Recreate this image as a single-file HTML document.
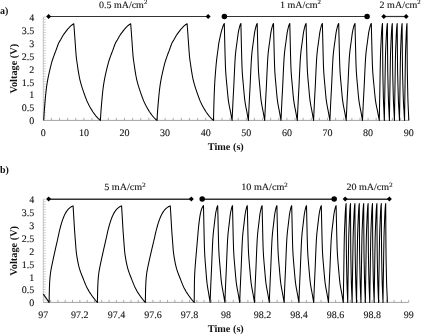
<!DOCTYPE html>
<html><head><meta charset="utf-8"><style>
html,body{margin:0;padding:0;background:#fff;}
svg{display:block;will-change:transform;text-rendering:geometricPrecision;}
.t{font-family:"Liberation Serif",serif;font-size:10px;fill:#111;stroke:#111;stroke-width:0.1px;}
.l{font-family:"Liberation Serif",serif;font-size:9.6px;fill:#111;stroke:#111;stroke-width:0.1px;}
.b{font-family:"Liberation Serif",serif;font-size:10px;font-weight:bold;fill:#111;}
</style></head><body>
<svg width="421" height="336" viewBox="0 0 421 336">
<path d="M43.30 117.82h2.5M43.30 115.23h2.5M43.30 112.65h2.5M43.30 110.06h2.5M43.30 107.48h2.5M43.30 104.89h2.5M43.30 102.31h2.5M43.30 99.72h2.5M43.30 97.14h2.5M43.30 94.55h2.5M43.30 91.97h2.5M43.30 89.38h2.5M43.30 86.80h2.5M43.30 84.21h2.5M43.30 81.62h2.5M43.30 79.04h2.5M43.30 76.45h2.5M43.30 73.87h2.5M43.30 71.28h2.5M43.30 68.70h2.5M43.30 66.12h2.5M43.30 63.53h2.5M43.30 60.95h2.5M43.30 58.36h2.5M43.30 55.78h2.5M43.30 53.19h2.5M43.30 50.61h2.5M43.30 48.02h2.5M43.30 45.44h2.5M43.30 42.85h2.5M43.30 40.27h2.5M43.30 37.68h2.5M43.30 35.09h2.5M43.30 32.51h2.5M43.30 29.93h2.5M43.30 27.34h2.5M43.30 24.75h2.5M43.30 22.17h2.5M43.30 19.58h2.5M43.30 17.00h2.5" stroke="#c4c4c4" stroke-width="0.8" fill="none"/><path d="M51.42 120.40v-2.6M59.54 120.40v-2.6M67.66 120.40v-2.6M75.78 120.40v-2.6M83.90 120.40v-2.6M92.02 120.40v-2.6M100.14 120.40v-2.6M108.26 120.40v-2.6M116.38 120.40v-2.6M124.50 120.40v-2.6M132.62 120.40v-2.6M140.74 120.40v-2.6M148.86 120.40v-2.6M156.98 120.40v-2.6M165.10 120.40v-2.6M173.22 120.40v-2.6M181.34 120.40v-2.6M189.46 120.40v-2.6M197.58 120.40v-2.6M205.70 120.40v-2.6M213.82 120.40v-2.6M221.94 120.40v-2.6M230.06 120.40v-2.6M238.18 120.40v-2.6M246.30 120.40v-2.6M254.42 120.40v-2.6M262.54 120.40v-2.6M270.66 120.40v-2.6M278.78 120.40v-2.6M286.90 120.40v-2.6M295.02 120.40v-2.6M303.14 120.40v-2.6M311.26 120.40v-2.6M319.38 120.40v-2.6M327.50 120.40v-2.6M335.62 120.40v-2.6M343.74 120.40v-2.6M351.86 120.40v-2.6M359.98 120.40v-2.6M368.10 120.40v-2.6M376.22 120.40v-2.6M384.34 120.40v-2.6M392.46 120.40v-2.6M400.58 120.40v-2.6M408.70 120.40v-2.6" stroke="#999" stroke-width="0.8" fill="none"/><path d="M43.30 17.00V120.40" stroke="#bbb" stroke-width="0.9" fill="none"/><path d="M43.30 120.40H408.70" stroke="#999" stroke-width="0.9" fill="none"/><text x="34.3" y="124.30" text-anchor="end" class="t">0</text><text x="34.3" y="111.38" text-anchor="end" class="t">0.5</text><text x="34.3" y="98.45" text-anchor="end" class="t">1</text><text x="34.3" y="85.53" text-anchor="end" class="t">1.5</text><text x="34.3" y="72.60" text-anchor="end" class="t">2</text><text x="34.3" y="59.68" text-anchor="end" class="t">2.5</text><text x="34.3" y="46.75" text-anchor="end" class="t">3</text><text x="34.3" y="33.82" text-anchor="end" class="t">3.5</text><text x="34.3" y="20.90" text-anchor="end" class="t">4</text><text x="43.30" y="136.00" text-anchor="middle" class="t">0</text><text x="83.90" y="136.00" text-anchor="middle" class="t">10</text><text x="124.50" y="136.00" text-anchor="middle" class="t">20</text><text x="165.10" y="136.00" text-anchor="middle" class="t">30</text><text x="205.70" y="136.00" text-anchor="middle" class="t">40</text><text x="246.30" y="136.00" text-anchor="middle" class="t">50</text><text x="286.90" y="136.00" text-anchor="middle" class="t">60</text><text x="327.50" y="136.00" text-anchor="middle" class="t">70</text><text x="368.10" y="136.00" text-anchor="middle" class="t">80</text><text x="408.70" y="136.00" text-anchor="middle" class="t">90</text>
<path d="M43.30 299.82h2.5M43.30 297.24h2.5M43.30 294.66h2.5M43.30 292.08h2.5M43.30 289.50h2.5M43.30 286.92h2.5M43.30 284.34h2.5M43.30 281.76h2.5M43.30 279.18h2.5M43.30 276.60h2.5M43.30 274.02h2.5M43.30 271.44h2.5M43.30 268.86h2.5M43.30 266.28h2.5M43.30 263.70h2.5M43.30 261.12h2.5M43.30 258.54h2.5M43.30 255.96h2.5M43.30 253.38h2.5M43.30 250.80h2.5M43.30 248.22h2.5M43.30 245.64h2.5M43.30 243.06h2.5M43.30 240.48h2.5M43.30 237.90h2.5M43.30 235.32h2.5M43.30 232.74h2.5M43.30 230.16h2.5M43.30 227.58h2.5M43.30 225.00h2.5M43.30 222.42h2.5M43.30 219.84h2.5M43.30 217.26h2.5M43.30 214.68h2.5M43.30 212.10h2.5M43.30 209.52h2.5M43.30 206.94h2.5M43.30 204.36h2.5M43.30 201.78h2.5M43.30 199.20h2.5" stroke="#c4c4c4" stroke-width="0.8" fill="none"/><path d="M50.61 302.40v-2.6M57.92 302.40v-2.6M65.22 302.40v-2.6M72.53 302.40v-2.6M79.84 302.40v-2.6M87.15 302.40v-2.6M94.46 302.40v-2.6M101.76 302.40v-2.6M109.07 302.40v-2.6M116.38 302.40v-2.6M123.69 302.40v-2.6M131.00 302.40v-2.6M138.30 302.40v-2.6M145.61 302.40v-2.6M152.92 302.40v-2.6M160.23 302.40v-2.6M167.54 302.40v-2.6M174.84 302.40v-2.6M182.15 302.40v-2.6M189.46 302.40v-2.6M196.77 302.40v-2.6M204.08 302.40v-2.6M211.38 302.40v-2.6M218.69 302.40v-2.6M226.00 302.40v-2.6M233.31 302.40v-2.6M240.62 302.40v-2.6M247.92 302.40v-2.6M255.23 302.40v-2.6M262.54 302.40v-2.6M269.85 302.40v-2.6M277.16 302.40v-2.6M284.46 302.40v-2.6M291.77 302.40v-2.6M299.08 302.40v-2.6M306.39 302.40v-2.6M313.70 302.40v-2.6M321.00 302.40v-2.6M328.31 302.40v-2.6M335.62 302.40v-2.6M342.93 302.40v-2.6M350.24 302.40v-2.6M357.54 302.40v-2.6M364.85 302.40v-2.6M372.16 302.40v-2.6M379.47 302.40v-2.6M386.78 302.40v-2.6M394.08 302.40v-2.6M401.39 302.40v-2.6M408.70 302.40v-2.6" stroke="#999" stroke-width="0.8" fill="none"/><path d="M43.30 199.20V302.40" stroke="#bbb" stroke-width="0.9" fill="none"/><path d="M43.30 302.40H408.70" stroke="#999" stroke-width="0.9" fill="none"/><text x="34.3" y="306.30" text-anchor="end" class="t">0</text><text x="34.3" y="293.40" text-anchor="end" class="t">0.5</text><text x="34.3" y="280.50" text-anchor="end" class="t">1</text><text x="34.3" y="267.60" text-anchor="end" class="t">1.5</text><text x="34.3" y="254.70" text-anchor="end" class="t">2</text><text x="34.3" y="241.80" text-anchor="end" class="t">2.5</text><text x="34.3" y="228.90" text-anchor="end" class="t">3</text><text x="34.3" y="216.00" text-anchor="end" class="t">3.5</text><text x="34.3" y="203.10" text-anchor="end" class="t">4</text><text x="43.30" y="318.00" text-anchor="middle" class="t">97</text><text x="79.84" y="318.00" text-anchor="middle" class="t">97.2</text><text x="116.38" y="318.00" text-anchor="middle" class="t">97.4</text><text x="152.92" y="318.00" text-anchor="middle" class="t">97.6</text><text x="189.46" y="318.00" text-anchor="middle" class="t">97.8</text><text x="226.00" y="318.00" text-anchor="middle" class="t">98</text><text x="262.54" y="318.00" text-anchor="middle" class="t">98.2</text><text x="299.08" y="318.00" text-anchor="middle" class="t">98.4</text><text x="335.62" y="318.00" text-anchor="middle" class="t">98.6</text><text x="372.16" y="318.00" text-anchor="middle" class="t">98.8</text><text x="408.70" y="318.00" text-anchor="middle" class="t">99</text>
<path d="M43.70 120.40L44.08 113.99L44.46 108.62L44.84 104.09L45.22 99.66L45.61 95.43L45.99 91.82L46.37 88.52L46.75 85.58L47.13 83.05L47.51 80.83L47.89 78.82L48.27 76.97L48.65 75.20L49.03 73.47L49.42 71.73L49.80 70.04L50.18 68.40L50.56 66.80L50.94 65.28L51.32 63.83L51.70 62.46L52.08 61.18L52.46 59.98L52.84 58.83L53.23 57.72L53.61 56.63L53.99 55.57L54.37 54.55L54.75 53.55L55.13 52.56L55.51 51.57L55.89 50.57L56.27 49.55L56.65 48.48L57.04 47.38L57.42 46.28L57.80 45.22L58.18 44.23L58.56 43.34L58.94 42.56L59.32 41.87L59.70 41.23L60.08 40.62L60.46 40.01L60.85 39.36L61.23 38.68L61.61 37.98L61.99 37.27L62.37 36.58L62.75 35.92L63.13 35.30L63.51 34.71L63.89 34.15L64.27 33.61L64.66 33.09L65.04 32.57L65.42 32.07L65.80 31.57L66.18 31.07L66.56 30.59L66.94 30.11L67.32 29.64L67.70 29.19L68.08 28.75L68.47 28.32L68.85 27.90L69.23 27.48L69.61 27.07L69.99 26.68L70.37 26.30L70.75 25.95L71.13 25.62L71.51 25.31L71.89 25.01L72.28 24.72L72.66 24.44L73.04 24.19L73.42 23.94L73.80 23.72L73.80 23.72L74.14 27.95L74.47 32.48L74.81 37.28L75.15 42.00L75.48 46.67L75.82 51.50L76.16 55.83L76.49 58.82L76.83 61.25L77.17 63.48L77.50 65.79L77.84 68.09L78.18 70.31L78.51 72.40L78.85 74.35L79.19 76.22L79.52 77.96L79.86 79.53L80.20 80.93L80.53 82.22L80.87 83.43L81.21 84.57L81.54 85.68L81.88 86.79L82.22 87.86L82.55 88.91L82.89 89.93L83.23 90.93L83.56 91.90L83.90 92.86L84.24 93.80L84.57 94.74L84.91 95.67L85.25 96.59L85.58 97.50L85.92 98.39L86.26 99.25L86.59 100.09L86.93 100.90L87.27 101.67L87.61 102.40L87.94 103.11L88.28 103.80L88.62 104.48L88.95 105.14L89.29 105.78L89.63 106.41L89.96 107.02L90.30 107.61L90.64 108.19L90.97 108.76L91.31 109.32L91.65 109.86L91.98 110.39L92.32 110.92L92.66 111.44L92.99 111.95L93.33 112.45L93.67 112.94L94.00 113.42L94.34 113.89L94.68 114.35L95.01 114.79L95.35 115.23L95.69 115.66L96.02 116.07L96.36 116.47L96.70 116.85L97.03 117.23L97.37 117.59L97.71 117.94L98.04 118.29L98.38 118.62L98.72 118.95L99.05 119.26L99.39 119.56L99.73 119.85L100.06 120.13L100.40 120.40L100.40 120.40L100.78 113.99L101.17 108.62L101.55 104.09L101.93 99.66L102.32 95.43L102.70 91.82L103.08 88.52L103.47 85.58L103.85 83.05L104.24 80.83L104.62 78.82L105.00 76.97L105.39 75.20L105.77 73.47L106.15 71.73L106.54 70.04L106.92 68.40L107.30 66.80L107.69 65.28L108.07 63.83L108.45 62.46L108.84 61.18L109.22 59.98L109.61 58.83L109.99 57.72L110.37 56.63L110.76 55.57L111.14 54.55L111.52 53.55L111.91 52.56L112.29 51.57L112.67 50.57L113.06 49.55L113.44 48.48L113.82 47.38L114.21 46.28L114.59 45.22L114.97 44.23L115.36 43.34L115.74 42.56L116.13 41.87L116.51 41.23L116.89 40.62L117.28 40.01L117.66 39.36L118.04 38.68L118.43 37.98L118.81 37.27L119.19 36.58L119.58 35.92L119.96 35.30L120.34 34.71L120.73 34.15L121.11 33.61L121.49 33.09L121.88 32.57L122.26 32.07L122.65 31.57L123.03 31.07L123.41 30.59L123.80 30.11L124.18 29.64L124.56 29.19L124.95 28.75L125.33 28.32L125.71 27.90L126.10 27.48L126.48 27.07L126.86 26.68L127.25 26.30L127.63 25.95L128.02 25.62L128.40 25.31L128.78 25.01L129.17 24.72L129.55 24.44L129.93 24.19L130.32 23.94L130.70 23.72L130.70 23.72L131.03 27.95L131.37 32.48L131.70 37.28L132.03 42.00L132.36 46.67L132.70 51.50L133.03 55.83L133.36 58.82L133.70 61.25L134.03 63.48L134.36 65.79L134.69 68.09L135.03 70.31L135.36 72.40L135.69 74.35L136.03 76.22L136.36 77.96L136.69 79.53L137.03 80.93L137.36 82.22L137.69 83.43L138.02 84.57L138.36 85.68L138.69 86.79L139.02 87.86L139.36 88.91L139.69 89.93L140.02 90.93L140.35 91.90L140.69 92.86L141.02 93.80L141.35 94.74L141.69 95.67L142.02 96.59L142.35 97.50L142.68 98.39L143.02 99.25L143.35 100.09L143.68 100.90L144.02 101.67L144.35 102.40L144.68 103.11L145.02 103.80L145.35 104.48L145.68 105.14L146.01 105.78L146.35 106.41L146.68 107.02L147.01 107.61L147.35 108.19L147.68 108.76L148.01 109.32L148.34 109.86L148.68 110.39L149.01 110.92L149.34 111.44L149.68 111.95L150.01 112.45L150.34 112.94L150.67 113.42L151.01 113.89L151.34 114.35L151.67 114.79L152.01 115.23L152.34 115.66L152.67 116.07L153.01 116.47L153.34 116.85L153.67 117.23L154.00 117.59L154.34 117.94L154.67 118.29L155.00 118.62L155.34 118.95L155.67 119.26L156.00 119.56L156.33 119.85L156.67 120.13L157.00 120.40L157.00 120.40L157.38 113.99L157.76 108.62L158.14 104.09L158.52 99.66L158.91 95.43L159.29 91.82L159.67 88.52L160.05 85.58L160.43 83.05L160.81 80.83L161.19 78.82L161.57 76.97L161.95 75.20L162.33 73.47L162.72 71.73L163.10 70.04L163.48 68.40L163.86 66.80L164.24 65.28L164.62 63.83L165.00 62.46L165.38 61.18L165.76 59.98L166.14 58.83L166.53 57.72L166.91 56.63L167.29 55.57L167.67 54.55L168.05 53.55L168.43 52.56L168.81 51.57L169.19 50.57L169.57 49.55L169.95 48.48L170.34 47.38L170.72 46.28L171.10 45.22L171.48 44.23L171.86 43.34L172.24 42.56L172.62 41.87L173.00 41.23L173.38 40.62L173.76 40.01L174.15 39.36L174.53 38.68L174.91 37.98L175.29 37.27L175.67 36.58L176.05 35.92L176.43 35.30L176.81 34.71L177.19 34.15L177.57 33.61L177.96 33.09L178.34 32.57L178.72 32.07L179.10 31.57L179.48 31.07L179.86 30.59L180.24 30.11L180.62 29.64L181.00 29.19L181.38 28.75L181.77 28.32L182.15 27.90L182.53 27.48L182.91 27.07L183.29 26.68L183.67 26.30L184.05 25.95L184.43 25.62L184.81 25.31L185.19 25.01L185.58 24.72L185.96 24.44L186.34 24.19L186.72 23.94L187.10 23.72L187.10 23.72L187.43 27.95L187.77 32.48L188.10 37.28L188.44 42.00L188.77 46.67L189.11 51.50L189.44 55.83L189.77 58.82L190.11 61.25L190.44 63.48L190.78 65.79L191.11 68.09L191.44 70.31L191.78 72.40L192.11 74.35L192.45 76.22L192.78 77.96L193.12 79.53L193.45 80.93L193.78 82.22L194.12 83.43L194.45 84.57L194.79 85.68L195.12 86.79L195.45 87.86L195.79 88.91L196.12 89.93L196.46 90.93L196.79 91.90L197.13 92.86L197.46 93.80L197.79 94.74L198.13 95.67L198.46 96.59L198.80 97.50L199.13 98.39L199.46 99.25L199.80 100.09L200.13 100.90L200.47 101.67L200.80 102.40L201.14 103.11L201.47 103.80L201.80 104.48L202.14 105.14L202.47 105.78L202.81 106.41L203.14 107.02L203.47 107.61L203.81 108.19L204.14 108.76L204.48 109.32L204.81 109.86L205.15 110.39L205.48 110.92L205.81 111.44L206.15 111.95L206.48 112.45L206.82 112.94L207.15 113.42L207.48 113.89L207.82 114.35L208.15 114.79L208.49 115.23L208.82 115.66L209.16 116.07L209.49 116.47L209.82 116.85L210.16 117.23L210.49 117.59L210.83 117.94L211.16 118.29L211.49 118.62L211.83 118.95L212.16 119.26L212.50 119.56L212.83 119.85L213.17 120.13L213.50 120.40L213.50 120.40L213.78 108.46L214.05 99.38L214.33 91.48L214.61 85.21L214.88 80.46L215.16 76.57L215.44 73.03L215.72 69.56L215.99 66.30L216.27 63.32L216.55 60.67L216.82 58.32L217.10 56.10L217.38 54.01L217.65 52.00L217.93 49.97L218.21 47.81L218.48 45.59L218.76 43.58L219.04 41.98L219.32 40.69L219.59 39.43L219.87 38.05L220.15 36.62L220.42 35.29L220.70 34.11L220.98 33.01L221.25 31.98L221.53 30.96L221.81 29.98L222.08 29.04L222.36 28.15L222.64 27.30L222.92 26.48L223.19 25.73L223.47 25.08L223.75 24.48L224.02 23.94L224.30 23.46L224.30 23.46L224.57 34.78L224.84 45.85L225.11 56.20L225.38 65.08L225.64 70.69L225.91 74.60L226.18 77.99L226.45 80.92L226.72 83.68L226.99 86.55L227.26 89.53L227.53 92.49L227.80 95.31L228.07 97.88L228.33 100.08L228.60 101.93L228.87 103.59L229.14 105.11L229.41 106.52L229.68 107.86L229.95 109.16L230.22 110.46L230.49 111.81L230.76 113.22L231.02 114.66L231.29 116.10L231.56 117.54L231.83 118.97L232.10 120.40L232.10 120.40L232.40 113.50L232.71 106.92L233.01 100.66L233.31 94.94L233.62 89.41L233.92 83.47L234.22 76.68L234.53 70.27L234.83 64.27L235.13 58.86L235.44 54.84L235.74 51.74L236.04 49.10L236.35 46.77L236.65 44.61L236.96 42.47L237.26 40.22L237.56 37.88L237.87 35.58L238.17 33.44L238.47 31.58L238.78 30.11L239.08 28.80L239.38 27.56L239.69 26.41L239.99 25.40L240.29 24.55L240.60 23.90L240.90 23.46L240.90 23.46L241.16 34.78L241.42 45.85L241.68 56.20L241.93 65.08L242.19 70.69L242.45 74.60L242.71 77.99L242.97 80.92L243.23 83.68L243.49 86.55L243.74 89.53L244.00 92.49L244.26 95.31L244.52 97.88L244.78 100.08L245.04 101.93L245.30 103.59L245.56 105.11L245.81 106.52L246.07 107.86L246.33 109.16L246.59 110.46L246.85 111.81L247.11 113.22L247.37 114.66L247.62 116.10L247.88 117.54L248.14 118.97L248.40 120.40L248.40 120.40L248.70 113.50L249.01 106.92L249.31 100.66L249.61 94.94L249.92 89.41L250.22 83.47L250.52 76.68L250.83 70.27L251.13 64.27L251.43 58.86L251.74 54.84L252.04 51.74L252.34 49.10L252.65 46.77L252.95 44.61L253.26 42.47L253.56 40.22L253.86 37.88L254.17 35.58L254.47 33.44L254.77 31.58L255.08 30.11L255.38 28.80L255.68 27.56L255.99 26.41L256.29 25.40L256.59 24.55L256.90 23.90L257.20 23.46L257.20 23.46L257.46 34.78L257.72 45.85L257.98 56.20L258.23 65.08L258.49 70.69L258.75 74.60L259.01 77.99L259.27 80.92L259.53 83.68L259.79 86.55L260.04 89.53L260.30 92.49L260.56 95.31L260.82 97.88L261.08 100.08L261.34 101.93L261.60 103.59L261.86 105.11L262.11 106.52L262.37 107.86L262.63 109.16L262.89 110.46L263.15 111.81L263.41 113.22L263.67 114.66L263.92 116.10L264.18 117.54L264.44 118.97L264.70 120.40L264.70 120.40L265.00 113.50L265.31 106.92L265.61 100.66L265.91 94.94L266.22 89.41L266.52 83.47L266.82 76.68L267.13 70.27L267.43 64.27L267.73 58.86L268.04 54.84L268.34 51.74L268.64 49.10L268.95 46.77L269.25 44.61L269.56 42.47L269.86 40.22L270.16 37.88L270.47 35.58L270.77 33.44L271.07 31.58L271.38 30.11L271.68 28.80L271.98 27.56L272.29 26.41L272.59 25.40L272.89 24.55L273.20 23.90L273.50 23.46L273.50 23.46L273.76 34.78L274.02 45.85L274.28 56.20L274.53 65.08L274.79 70.69L275.05 74.60L275.31 77.99L275.57 80.92L275.83 83.68L276.09 86.55L276.34 89.53L276.60 92.49L276.86 95.31L277.12 97.88L277.38 100.08L277.64 101.93L277.90 103.59L278.16 105.11L278.41 106.52L278.67 107.86L278.93 109.16L279.19 110.46L279.45 111.81L279.71 113.22L279.97 114.66L280.22 116.10L280.48 117.54L280.74 118.97L281.00 120.40L281.00 120.40L281.30 113.50L281.61 106.92L281.91 100.66L282.21 94.94L282.52 89.41L282.82 83.47L283.12 76.68L283.43 70.27L283.73 64.27L284.03 58.86L284.34 54.84L284.64 51.74L284.94 49.10L285.25 46.77L285.55 44.61L285.86 42.47L286.16 40.22L286.46 37.88L286.77 35.58L287.07 33.44L287.37 31.58L287.68 30.11L287.98 28.80L288.28 27.56L288.59 26.41L288.89 25.40L289.19 24.55L289.50 23.90L289.80 23.46L289.80 23.46L290.06 34.78L290.32 45.85L290.58 56.20L290.83 65.08L291.09 70.69L291.35 74.60L291.61 77.99L291.87 80.92L292.13 83.68L292.39 86.55L292.64 89.53L292.90 92.49L293.16 95.31L293.42 97.88L293.68 100.08L293.94 101.93L294.20 103.59L294.46 105.11L294.71 106.52L294.97 107.86L295.23 109.16L295.49 110.46L295.75 111.81L296.01 113.22L296.27 114.66L296.52 116.10L296.78 117.54L297.04 118.97L297.30 120.40L297.30 120.40L297.60 113.50L297.91 106.92L298.21 100.66L298.51 94.94L298.82 89.41L299.12 83.47L299.42 76.68L299.73 70.27L300.03 64.27L300.33 58.86L300.64 54.84L300.94 51.74L301.24 49.10L301.55 46.77L301.85 44.61L302.16 42.47L302.46 40.22L302.76 37.88L303.07 35.58L303.37 33.44L303.67 31.58L303.98 30.11L304.28 28.80L304.58 27.56L304.89 26.41L305.19 25.40L305.49 24.55L305.80 23.90L306.10 23.46L306.10 23.46L306.36 34.78L306.62 45.85L306.88 56.20L307.13 65.08L307.39 70.69L307.65 74.60L307.91 77.99L308.17 80.92L308.43 83.68L308.69 86.55L308.94 89.53L309.20 92.49L309.46 95.31L309.72 97.88L309.98 100.08L310.24 101.93L310.50 103.59L310.76 105.11L311.01 106.52L311.27 107.86L311.53 109.16L311.79 110.46L312.05 111.81L312.31 113.22L312.57 114.66L312.82 116.10L313.08 117.54L313.34 118.97L313.60 120.40L313.60 120.40L313.90 113.50L314.21 106.92L314.51 100.66L314.81 94.94L315.12 89.41L315.42 83.47L315.72 76.68L316.03 70.27L316.33 64.27L316.63 58.86L316.94 54.84L317.24 51.74L317.54 49.10L317.85 46.77L318.15 44.61L318.46 42.47L318.76 40.22L319.06 37.88L319.37 35.58L319.67 33.44L319.97 31.58L320.28 30.11L320.58 28.80L320.88 27.56L321.19 26.41L321.49 25.40L321.79 24.55L322.10 23.90L322.40 23.46L322.40 23.46L322.66 34.78L322.92 45.85L323.18 56.20L323.43 65.08L323.69 70.69L323.95 74.60L324.21 77.99L324.47 80.92L324.73 83.68L324.99 86.55L325.24 89.53L325.50 92.49L325.76 95.31L326.02 97.88L326.28 100.08L326.54 101.93L326.80 103.59L327.06 105.11L327.31 106.52L327.57 107.86L327.83 109.16L328.09 110.46L328.35 111.81L328.61 113.22L328.87 114.66L329.12 116.10L329.38 117.54L329.64 118.97L329.90 120.40L329.90 120.40L330.20 113.50L330.51 106.92L330.81 100.66L331.11 94.94L331.42 89.41L331.72 83.47L332.02 76.68L332.33 70.27L332.63 64.27L332.93 58.86L333.24 54.84L333.54 51.74L333.84 49.10L334.15 46.77L334.45 44.61L334.76 42.47L335.06 40.22L335.36 37.88L335.67 35.58L335.97 33.44L336.27 31.58L336.58 30.11L336.88 28.80L337.18 27.56L337.49 26.41L337.79 25.40L338.09 24.55L338.40 23.90L338.70 23.46L338.70 23.46L338.96 34.78L339.22 45.85L339.48 56.20L339.73 65.08L339.99 70.69L340.25 74.60L340.51 77.99L340.77 80.92L341.03 83.68L341.29 86.55L341.54 89.53L341.80 92.49L342.06 95.31L342.32 97.88L342.58 100.08L342.84 101.93L343.10 103.59L343.36 105.11L343.61 106.52L343.87 107.86L344.13 109.16L344.39 110.46L344.65 111.81L344.91 113.22L345.17 114.66L345.42 116.10L345.68 117.54L345.94 118.97L346.20 120.40L346.20 120.40L346.50 113.50L346.81 106.92L347.11 100.66L347.41 94.94L347.72 89.41L348.02 83.47L348.32 76.68L348.63 70.27L348.93 64.27L349.23 58.86L349.54 54.84L349.84 51.74L350.14 49.10L350.45 46.77L350.75 44.61L351.06 42.47L351.36 40.22L351.66 37.88L351.97 35.58L352.27 33.44L352.57 31.58L352.88 30.11L353.18 28.80L353.48 27.56L353.79 26.41L354.09 25.40L354.39 24.55L354.70 23.90L355.00 23.46L355.00 23.46L355.26 34.78L355.52 45.85L355.78 56.20L356.03 65.08L356.29 70.69L356.55 74.60L356.81 77.99L357.07 80.92L357.33 83.68L357.59 86.55L357.84 89.53L358.10 92.49L358.36 95.31L358.62 97.88L358.88 100.08L359.14 101.93L359.40 103.59L359.66 105.11L359.91 106.52L360.17 107.86L360.43 109.16L360.69 110.46L360.95 111.81L361.21 113.22L361.47 114.66L361.72 116.10L361.98 117.54L362.24 118.97L362.50 120.40L362.50 120.40L362.80 113.50L363.11 106.92L363.41 100.66L363.71 94.94L364.02 89.41L364.32 83.47L364.62 76.68L364.93 70.27L365.23 64.27L365.53 58.86L365.84 54.84L366.14 51.74L366.44 49.10L366.75 46.77L367.05 44.61L367.36 42.47L367.66 40.22L367.96 37.88L368.27 35.58L368.57 33.44L368.87 31.58L369.18 30.11L369.48 28.80L369.78 27.56L370.09 26.41L370.39 25.40L370.69 24.55L371.00 23.90L371.30 23.46L371.30 23.46L371.58 34.78L371.85 45.85L372.13 56.20L372.40 65.08L372.68 70.69L372.96 74.60L373.23 77.99L373.51 80.92L373.78 83.68L374.06 86.55L374.33 89.53L374.61 92.49L374.89 95.31L375.16 97.88L375.44 100.08L375.71 101.93L375.99 103.59L376.27 105.11L376.54 106.52L376.82 107.86L377.09 109.16L377.37 110.46L377.64 111.81L377.92 113.22L378.20 114.66L378.47 116.10L378.75 117.54L379.02 118.97L379.30 120.40L379.30 120.40L379.59 102.90L379.88 87.86L380.17 70.81L380.46 56.46L380.75 48.66L381.05 42.87L381.34 36.82L381.63 31.43L381.92 27.89L382.21 25.08L382.50 23.46L382.50 23.46L382.67 52.68L382.84 71.86L383.00 80.67L383.17 88.17L383.34 95.80L383.51 101.61L383.68 105.76L383.85 109.28L384.01 112.83L384.18 116.62L384.35 120.40L384.35 120.40L384.63 102.90L384.90 87.86L385.18 70.81L385.46 56.46L385.74 48.66L386.01 42.87L386.29 36.82L386.57 31.43L386.85 27.89L387.12 25.08L387.40 23.46L387.40 23.46L387.58 52.68L387.76 71.86L387.95 80.67L388.13 88.17L388.31 95.80L388.49 101.61L388.67 105.76L388.85 109.28L389.04 112.83L389.22 116.62L389.40 120.40L389.40 120.40L389.66 102.90L389.93 87.86L390.19 70.81L390.45 56.46L390.72 48.66L390.98 42.87L391.25 36.82L391.51 31.43L391.77 27.89L392.04 25.08L392.30 23.46L392.30 23.46L392.50 52.68L392.69 71.86L392.89 80.67L393.08 88.17L393.28 95.80L393.47 101.61L393.67 105.76L393.86 109.28L394.06 112.83L394.25 116.62L394.45 120.40L394.45 120.40L394.70 102.90L394.95 87.86L395.20 70.81L395.45 56.46L395.70 48.66L395.95 42.87L396.20 36.82L396.45 31.43L396.70 27.89L396.95 25.08L397.20 23.46L397.20 23.46L397.41 52.68L397.62 71.86L397.83 80.67L398.04 88.17L398.25 95.80L398.45 101.61L398.66 105.76L398.87 109.28L399.08 112.83L399.29 116.62L399.50 120.40L399.50 120.40L399.74 102.90L399.97 87.86L400.21 70.81L400.45 56.46L400.68 48.66L400.92 42.87L401.15 36.82L401.39 31.43L401.63 27.89L401.86 25.08L402.10 23.46L402.10 23.46L402.32 52.68L402.55 71.86L402.77 80.67L402.99 88.17L403.21 95.80L403.44 101.61L403.66 105.76L403.88 109.28L404.10 112.83L404.33 116.62L404.55 120.40L404.55 120.40L404.77 102.90L405.00 87.86L405.22 70.81L405.44 56.46L405.66 48.66L405.89 42.87L406.11 36.82L406.33 31.43L406.55 27.89L406.78 25.08L407.00 23.46L407.00 23.46L407.16 52.68L407.33 71.86L407.49 80.67L407.65 88.17L407.82 95.80L407.98 101.61L408.15 105.76L408.31 109.28L408.47 112.83L408.64 116.62L408.80 120.40" stroke="#000" stroke-width="1.05" fill="none" stroke-linejoin="round"/>
<path d="M43.30 294.14L49.10 302.40L49.10 302.40L49.40 287.93L49.71 281.44L50.01 277.39L50.32 274.48L50.62 272.21L50.92 270.30L51.23 268.57L51.53 267.01L51.83 265.54L52.14 264.06L52.44 262.61L52.75 261.19L53.05 259.78L53.35 258.37L53.66 256.97L53.96 255.58L54.26 254.19L54.57 252.81L54.87 251.45L55.18 250.08L55.48 248.73L55.78 247.40L56.09 246.07L56.39 244.74L56.69 243.42L57.00 242.09L57.30 240.75L57.61 239.40L57.91 238.01L58.21 236.59L58.52 235.16L58.82 233.74L59.13 232.35L59.43 231.00L59.73 229.73L60.04 228.54L60.34 227.38L60.64 226.25L60.95 225.15L61.25 224.08L61.56 223.06L61.86 222.08L62.16 221.15L62.47 220.26L62.77 219.43L63.07 218.61L63.38 217.81L63.68 217.04L63.99 216.30L64.29 215.59L64.59 214.92L64.90 214.28L65.20 213.68L65.51 213.12L65.81 212.61L66.11 212.12L66.42 211.64L66.72 211.19L67.02 210.76L67.33 210.35L67.63 209.96L67.94 209.60L68.24 209.27L68.54 208.96L68.85 208.68L69.15 208.41L69.45 208.15L69.76 207.89L70.06 207.65L70.37 207.41L70.67 207.18L70.97 206.96L71.28 206.76L71.58 206.57L71.88 206.40L72.19 206.25L72.49 206.12L72.80 206.00L73.10 205.91L73.10 205.91L73.41 211.00L73.72 216.11L74.02 221.37L74.33 226.56L74.64 231.25L74.95 235.45L75.25 239.38L75.56 243.27L75.87 247.44L76.18 250.99L76.48 253.57L76.79 255.74L77.10 257.63L77.41 259.39L77.71 261.05L78.02 262.60L78.33 264.06L78.64 265.41L78.94 266.67L79.25 267.84L79.56 268.92L79.87 269.93L80.17 270.87L80.48 271.77L80.79 272.62L81.10 273.43L81.41 274.22L81.71 274.98L82.02 275.74L82.33 276.49L82.64 277.25L82.94 278.02L83.25 278.80L83.56 279.58L83.87 280.37L84.17 281.14L84.48 281.91L84.79 282.68L85.10 283.43L85.40 284.16L85.71 284.88L86.02 285.59L86.33 286.26L86.63 286.92L86.94 287.54L87.25 288.14L87.56 288.72L87.86 289.28L88.17 289.83L88.48 290.37L88.79 290.89L89.09 291.41L89.40 291.91L89.71 292.40L90.02 292.88L90.33 293.35L90.63 293.81L90.94 294.27L91.25 294.71L91.56 295.15L91.86 295.59L92.17 296.02L92.48 296.44L92.79 296.86L93.09 297.27L93.40 297.68L93.71 298.08L94.02 298.48L94.32 298.87L94.63 299.26L94.94 299.63L95.25 300.00L95.55 300.37L95.86 300.73L96.17 301.08L96.48 301.42L96.78 301.75L97.09 302.08L97.40 302.40L97.40 302.40L97.71 287.93L98.01 281.44L98.32 277.39L98.63 274.48L98.93 272.21L99.24 270.30L99.54 268.57L99.85 267.01L100.16 265.54L100.46 264.06L100.77 262.61L101.08 261.19L101.38 259.78L101.69 258.37L101.99 256.97L102.30 255.58L102.61 254.19L102.91 252.81L103.22 251.45L103.53 250.08L103.83 248.73L104.14 247.40L104.45 246.07L104.75 244.74L105.06 243.42L105.36 242.09L105.67 240.75L105.98 239.40L106.28 238.01L106.59 236.59L106.90 235.16L107.20 233.74L107.51 232.35L107.82 231.00L108.12 229.73L108.43 228.54L108.73 227.38L109.04 226.25L109.35 225.15L109.65 224.08L109.96 223.06L110.27 222.08L110.57 221.15L110.88 220.26L111.18 219.43L111.49 218.61L111.80 217.81L112.10 217.04L112.41 216.30L112.72 215.59L113.02 214.92L113.33 214.28L113.64 213.68L113.94 213.12L114.25 212.61L114.55 212.12L114.86 211.64L115.17 211.19L115.47 210.76L115.78 210.35L116.09 209.96L116.39 209.60L116.70 209.27L117.01 208.96L117.31 208.68L117.62 208.41L117.92 208.15L118.23 207.89L118.54 207.65L118.84 207.41L119.15 207.18L119.46 206.96L119.76 206.76L120.07 206.57L120.37 206.40L120.68 206.25L120.99 206.12L121.29 206.00L121.60 205.91L121.60 205.91L121.90 211.00L122.20 216.11L122.50 221.37L122.80 226.56L123.10 231.25L123.40 235.45L123.70 239.38L124.00 243.27L124.30 247.44L124.60 250.99L124.90 253.57L125.20 255.74L125.50 257.63L125.80 259.39L126.10 261.05L126.40 262.60L126.70 264.06L127.00 265.41L127.30 266.67L127.60 267.84L127.90 268.92L128.20 269.93L128.50 270.87L128.80 271.77L129.10 272.62L129.40 273.43L129.70 274.22L130.00 274.98L130.30 275.74L130.60 276.49L130.90 277.25L131.20 278.02L131.50 278.80L131.80 279.58L132.10 280.37L132.40 281.14L132.70 281.91L133.00 282.68L133.30 283.43L133.60 284.16L133.90 284.88L134.20 285.59L134.50 286.26L134.80 286.92L135.10 287.54L135.40 288.14L135.70 288.72L136.00 289.28L136.30 289.83L136.60 290.37L136.90 290.89L137.20 291.41L137.50 291.91L137.80 292.40L138.10 292.88L138.40 293.35L138.70 293.81L139.00 294.27L139.30 294.71L139.60 295.15L139.90 295.59L140.20 296.02L140.50 296.44L140.80 296.86L141.10 297.27L141.40 297.68L141.70 298.08L142.00 298.48L142.30 298.87L142.60 299.26L142.90 299.63L143.20 300.00L143.50 300.37L143.80 300.73L144.10 301.08L144.40 301.42L144.70 301.75L145.00 302.08L145.30 302.40L145.30 302.40L145.62 287.93L145.93 281.44L146.25 277.39L146.57 274.48L146.88 272.21L147.20 270.30L147.52 268.57L147.83 267.01L148.15 265.54L148.46 264.06L148.78 262.61L149.10 261.19L149.41 259.78L149.73 258.37L150.05 256.97L150.36 255.58L150.68 254.19L151.00 252.81L151.31 251.45L151.63 250.08L151.95 248.73L152.26 247.40L152.58 246.07L152.89 244.74L153.21 243.42L153.53 242.09L153.84 240.75L154.16 239.40L154.48 238.01L154.79 236.59L155.11 235.16L155.43 233.74L155.74 232.35L156.06 231.00L156.38 229.73L156.69 228.54L157.01 227.38L157.33 226.25L157.64 225.15L157.96 224.08L158.27 223.06L158.59 222.08L158.91 221.15L159.22 220.26L159.54 219.43L159.86 218.61L160.17 217.81L160.49 217.04L160.81 216.30L161.12 215.59L161.44 214.92L161.76 214.28L162.07 213.68L162.39 213.12L162.71 212.61L163.02 212.12L163.34 211.64L163.65 211.19L163.97 210.76L164.29 210.35L164.60 209.96L164.92 209.60L165.24 209.27L165.55 208.96L165.87 208.68L166.19 208.41L166.50 208.15L166.82 207.89L167.14 207.65L167.45 207.41L167.77 207.18L168.08 206.96L168.40 206.76L168.72 206.57L169.03 206.40L169.35 206.25L169.67 206.12L169.98 206.00L170.30 205.91L170.30 205.91L170.60 211.00L170.91 216.11L171.21 221.37L171.51 226.56L171.81 231.25L172.12 235.45L172.42 239.38L172.72 243.27L173.02 247.44L173.33 250.99L173.63 253.57L173.93 255.74L174.23 257.63L174.54 259.39L174.84 261.05L175.14 262.60L175.44 264.06L175.75 265.41L176.05 266.67L176.35 267.84L176.65 268.92L176.96 269.93L177.26 270.87L177.56 271.77L177.86 272.62L178.17 273.43L178.47 274.22L178.77 274.98L179.07 275.74L179.38 276.49L179.68 277.25L179.98 278.02L180.28 278.80L180.59 279.58L180.89 280.37L181.19 281.14L181.49 281.91L181.80 282.68L182.10 283.43L182.40 284.16L182.70 284.88L183.01 285.59L183.31 286.26L183.61 286.92L183.91 287.54L184.22 288.14L184.52 288.72L184.82 289.28L185.12 289.83L185.43 290.37L185.73 290.89L186.03 291.41L186.33 291.91L186.64 292.40L186.94 292.88L187.24 293.35L187.54 293.81L187.85 294.27L188.15 294.71L188.45 295.15L188.75 295.59L189.06 296.02L189.36 296.44L189.66 296.86L189.96 297.27L190.27 297.68L190.57 298.08L190.87 298.48L191.17 298.87L191.48 299.26L191.78 299.63L192.08 300.00L192.38 300.37L192.69 300.73L192.99 301.08L193.29 301.42L193.59 301.75L193.90 302.08L194.20 302.40L194.20 302.40L194.44 281.26L194.68 274.28L194.92 270.07L195.15 266.76L195.39 263.77L195.63 260.86L195.87 258.00L196.11 255.17L196.35 252.36L196.58 249.60L196.82 246.87L197.06 244.18L197.30 241.48L197.54 238.73L197.78 235.86L198.02 232.98L198.25 230.25L198.49 227.80L198.73 225.50L198.97 223.34L199.21 221.35L199.45 219.57L199.68 217.91L199.92 216.36L200.16 214.92L200.40 213.64L200.64 212.52L200.88 211.53L201.12 210.62L201.35 209.80L201.59 209.08L201.83 208.48L202.07 207.94L202.31 207.42L202.55 206.95L202.78 206.52L203.02 206.16L203.26 205.86L203.50 205.65L203.50 205.65L203.73 216.94L203.96 228.00L204.18 238.33L204.41 247.19L204.64 252.79L204.87 256.69L205.09 260.07L205.32 263.00L205.55 265.75L205.78 268.62L206.00 271.59L206.23 274.54L206.46 277.36L206.69 279.92L206.91 282.12L207.14 283.97L207.37 285.63L207.60 287.14L207.82 288.55L208.05 289.88L208.28 291.18L208.51 292.48L208.73 293.82L208.96 295.24L209.19 296.67L209.42 298.11L209.64 299.54L209.87 300.97L210.10 302.40L210.10 302.40L210.36 295.52L210.62 288.94L210.89 282.70L211.15 276.99L211.41 271.47L211.67 265.54L211.93 258.77L212.20 252.36L212.46 246.38L212.72 240.98L212.98 236.97L213.24 233.87L213.51 231.24L213.77 228.92L214.03 226.76L214.29 224.63L214.56 222.38L214.82 220.04L215.08 217.74L215.34 215.61L215.60 213.75L215.87 212.28L216.13 210.97L216.39 209.74L216.65 208.60L216.91 207.59L217.18 206.74L217.44 206.08L217.70 205.65L217.70 205.65L217.95 216.94L218.20 228.00L218.44 238.33L218.69 247.19L218.94 252.79L219.19 256.69L219.44 260.07L219.69 263.00L219.93 265.75L220.18 268.62L220.43 271.59L220.68 274.54L220.93 277.36L221.18 279.92L221.42 282.12L221.67 283.97L221.92 285.63L222.17 287.14L222.42 288.55L222.67 289.88L222.91 291.18L223.16 292.48L223.41 293.82L223.66 295.24L223.91 296.67L224.16 298.11L224.40 299.54L224.65 300.97L224.90 302.40L224.90 302.40L225.16 295.52L225.42 288.94L225.69 282.70L225.95 276.99L226.21 271.47L226.47 265.54L226.73 258.77L227.00 252.36L227.26 246.38L227.52 240.98L227.78 236.97L228.04 233.87L228.31 231.24L228.57 228.92L228.83 226.76L229.09 224.63L229.36 222.38L229.62 220.04L229.88 217.74L230.14 215.61L230.40 213.75L230.67 212.28L230.93 210.97L231.19 209.74L231.45 208.60L231.71 207.59L231.98 206.74L232.24 206.08L232.50 205.65L232.50 205.65L232.75 216.94L233.00 228.00L233.24 238.33L233.49 247.19L233.74 252.79L233.99 256.69L234.24 260.07L234.49 263.00L234.73 265.75L234.98 268.62L235.23 271.59L235.48 274.54L235.73 277.36L235.98 279.92L236.22 282.12L236.47 283.97L236.72 285.63L236.97 287.14L237.22 288.55L237.47 289.88L237.71 291.18L237.96 292.48L238.21 293.82L238.46 295.24L238.71 296.67L238.96 298.11L239.20 299.54L239.45 300.97L239.70 302.40L239.70 302.40L239.96 295.52L240.22 288.94L240.49 282.70L240.75 276.99L241.01 271.47L241.27 265.54L241.53 258.77L241.80 252.36L242.06 246.38L242.32 240.98L242.58 236.97L242.84 233.87L243.11 231.24L243.37 228.92L243.63 226.76L243.89 224.63L244.16 222.38L244.42 220.04L244.68 217.74L244.94 215.61L245.20 213.75L245.47 212.28L245.73 210.97L245.99 209.74L246.25 208.60L246.51 207.59L246.78 206.74L247.04 206.08L247.30 205.65L247.30 205.65L247.55 216.94L247.80 228.00L248.04 238.33L248.29 247.19L248.54 252.79L248.79 256.69L249.04 260.07L249.29 263.00L249.53 265.75L249.78 268.62L250.03 271.59L250.28 274.54L250.53 277.36L250.78 279.92L251.02 282.12L251.27 283.97L251.52 285.63L251.77 287.14L252.02 288.55L252.27 289.88L252.51 291.18L252.76 292.48L253.01 293.82L253.26 295.24L253.51 296.67L253.76 298.11L254.00 299.54L254.25 300.97L254.50 302.40L254.50 302.40L254.76 295.52L255.02 288.94L255.29 282.70L255.55 276.99L255.81 271.47L256.07 265.54L256.33 258.77L256.60 252.36L256.86 246.38L257.12 240.98L257.38 236.97L257.64 233.87L257.91 231.24L258.17 228.92L258.43 226.76L258.69 224.63L258.96 222.38L259.22 220.04L259.48 217.74L259.74 215.61L260.00 213.75L260.27 212.28L260.53 210.97L260.79 209.74L261.05 208.60L261.31 207.59L261.58 206.74L261.84 206.08L262.10 205.65L262.10 205.65L262.35 216.94L262.60 228.00L262.84 238.33L263.09 247.19L263.34 252.79L263.59 256.69L263.84 260.07L264.09 263.00L264.33 265.75L264.58 268.62L264.83 271.59L265.08 274.54L265.33 277.36L265.58 279.92L265.82 282.12L266.07 283.97L266.32 285.63L266.57 287.14L266.82 288.55L267.07 289.88L267.31 291.18L267.56 292.48L267.81 293.82L268.06 295.24L268.31 296.67L268.56 298.11L268.80 299.54L269.05 300.97L269.30 302.40L269.30 302.40L269.56 295.52L269.82 288.94L270.09 282.70L270.35 276.99L270.61 271.47L270.87 265.54L271.13 258.77L271.40 252.36L271.66 246.38L271.92 240.98L272.18 236.97L272.44 233.87L272.71 231.24L272.97 228.92L273.23 226.76L273.49 224.63L273.76 222.38L274.02 220.04L274.28 217.74L274.54 215.61L274.80 213.75L275.07 212.28L275.33 210.97L275.59 209.74L275.85 208.60L276.11 207.59L276.38 206.74L276.64 206.08L276.90 205.65L276.90 205.65L277.15 216.94L277.40 228.00L277.64 238.33L277.89 247.19L278.14 252.79L278.39 256.69L278.64 260.07L278.89 263.00L279.13 265.75L279.38 268.62L279.63 271.59L279.88 274.54L280.13 277.36L280.38 279.92L280.62 282.12L280.87 283.97L281.12 285.63L281.37 287.14L281.62 288.55L281.87 289.88L282.11 291.18L282.36 292.48L282.61 293.82L282.86 295.24L283.11 296.67L283.36 298.11L283.60 299.54L283.85 300.97L284.10 302.40L284.10 302.40L284.36 295.52L284.62 288.94L284.89 282.70L285.15 276.99L285.41 271.47L285.67 265.54L285.93 258.77L286.20 252.36L286.46 246.38L286.72 240.98L286.98 236.97L287.24 233.87L287.51 231.24L287.77 228.92L288.03 226.76L288.29 224.63L288.56 222.38L288.82 220.04L289.08 217.74L289.34 215.61L289.60 213.75L289.87 212.28L290.13 210.97L290.39 209.74L290.65 208.60L290.91 207.59L291.18 206.74L291.44 206.08L291.70 205.65L291.70 205.65L291.95 216.94L292.20 228.00L292.44 238.33L292.69 247.19L292.94 252.79L293.19 256.69L293.44 260.07L293.69 263.00L293.93 265.75L294.18 268.62L294.43 271.59L294.68 274.54L294.93 277.36L295.18 279.92L295.42 282.12L295.67 283.97L295.92 285.63L296.17 287.14L296.42 288.55L296.67 289.88L296.91 291.18L297.16 292.48L297.41 293.82L297.66 295.24L297.91 296.67L298.16 298.11L298.40 299.54L298.65 300.97L298.90 302.40L298.90 302.40L299.16 295.52L299.42 288.94L299.69 282.70L299.95 276.99L300.21 271.47L300.47 265.54L300.73 258.77L301.00 252.36L301.26 246.38L301.52 240.98L301.78 236.97L302.04 233.87L302.31 231.24L302.57 228.92L302.83 226.76L303.09 224.63L303.36 222.38L303.62 220.04L303.88 217.74L304.14 215.61L304.40 213.75L304.67 212.28L304.93 210.97L305.19 209.74L305.45 208.60L305.71 207.59L305.98 206.74L306.24 206.08L306.50 205.65L306.50 205.65L306.75 216.94L307.00 228.00L307.24 238.33L307.49 247.19L307.74 252.79L307.99 256.69L308.24 260.07L308.49 263.00L308.73 265.75L308.98 268.62L309.23 271.59L309.48 274.54L309.73 277.36L309.98 279.92L310.22 282.12L310.47 283.97L310.72 285.63L310.97 287.14L311.22 288.55L311.47 289.88L311.71 291.18L311.96 292.48L312.21 293.82L312.46 295.24L312.71 296.67L312.96 298.11L313.20 299.54L313.45 300.97L313.70 302.40L313.70 302.40L313.96 295.52L314.22 288.94L314.49 282.70L314.75 276.99L315.01 271.47L315.27 265.54L315.53 258.77L315.80 252.36L316.06 246.38L316.32 240.98L316.58 236.97L316.84 233.87L317.11 231.24L317.37 228.92L317.63 226.76L317.89 224.63L318.16 222.38L318.42 220.04L318.68 217.74L318.94 215.61L319.20 213.75L319.47 212.28L319.73 210.97L319.99 209.74L320.25 208.60L320.51 207.59L320.78 206.74L321.04 206.08L321.30 205.65L321.30 205.65L321.55 216.94L321.80 228.00L322.04 238.33L322.29 247.19L322.54 252.79L322.79 256.69L323.04 260.07L323.29 263.00L323.53 265.75L323.78 268.62L324.03 271.59L324.28 274.54L324.53 277.36L324.78 279.92L325.02 282.12L325.27 283.97L325.52 285.63L325.77 287.14L326.02 288.55L326.27 289.88L326.51 291.18L326.76 292.48L327.01 293.82L327.26 295.24L327.51 296.67L327.76 298.11L328.00 299.54L328.25 300.97L328.50 302.40L328.50 302.40L328.76 295.52L329.02 288.94L329.29 282.70L329.55 276.99L329.81 271.47L330.07 265.54L330.33 258.77L330.60 252.36L330.86 246.38L331.12 240.98L331.38 236.97L331.64 233.87L331.91 231.24L332.17 228.92L332.43 226.76L332.69 224.63L332.96 222.38L333.22 220.04L333.48 217.74L333.74 215.61L334.00 213.75L334.27 212.28L334.53 210.97L334.79 209.74L335.05 208.60L335.31 207.59L335.58 206.74L335.84 206.08L336.10 205.65L336.10 205.65L336.35 216.94L336.60 228.00L336.84 238.33L337.09 247.19L337.34 252.79L337.59 256.69L337.84 260.07L338.09 263.00L338.33 265.75L338.58 268.62L338.83 271.59L339.08 274.54L339.33 277.36L339.58 279.92L339.82 282.12L340.07 283.97L340.32 285.63L340.57 287.14L340.82 288.55L341.07 289.88L341.31 291.18L341.56 292.48L341.81 293.82L342.06 295.24L342.31 296.67L342.56 298.11L342.80 299.54L343.05 300.97L343.30 302.40L343.30 302.40L343.55 284.56L343.81 269.23L344.06 251.85L344.32 237.23L344.57 229.27L344.83 223.37L345.08 217.21L345.34 211.71L345.59 208.10L345.85 205.23L346.10 203.59L346.10 203.59L346.25 233.37L346.39 252.92L346.54 261.90L346.69 269.55L346.83 277.32L346.98 283.24L347.12 287.48L347.27 291.06L347.42 294.68L347.56 298.55L347.71 302.40L347.71 302.40L347.96 284.56L348.22 269.23L348.47 251.85L348.72 237.23L348.98 229.27L349.23 223.37L349.49 217.21L349.74 211.71L349.99 208.10L350.25 205.23L350.50 203.59L350.50 203.59L350.65 233.37L350.79 252.92L350.94 261.90L351.09 269.55L351.24 277.32L351.38 283.24L351.53 287.48L351.68 291.06L351.83 294.68L351.97 298.55L352.12 302.40L352.12 302.40L352.37 284.56L352.63 269.23L352.88 251.85L353.13 237.23L353.38 229.27L353.64 223.37L353.89 217.21L354.14 211.71L354.39 208.10L354.65 205.23L354.90 203.59L354.90 203.59L355.05 233.37L355.20 252.92L355.34 261.90L355.49 269.55L355.64 277.32L355.79 283.24L355.94 287.48L356.09 291.06L356.23 294.68L356.38 298.55L356.53 302.40L356.53 302.40L356.78 284.56L357.03 269.23L357.29 251.85L357.54 237.23L357.79 229.27L358.04 223.37L358.29 217.21L358.54 211.71L358.80 208.10L359.05 205.23L359.30 203.59L359.30 203.59L359.45 233.37L359.60 252.92L359.75 261.90L359.90 269.55L360.05 277.32L360.19 283.24L360.34 287.48L360.49 291.06L360.64 294.68L360.79 298.55L360.94 302.40L360.94 302.40L361.19 284.56L361.44 269.23L361.69 251.85L361.94 237.23L362.19 229.27L362.45 223.37L362.70 217.21L362.95 211.71L363.20 208.10L363.45 205.23L363.70 203.59L363.70 203.59L363.85 233.37L364.00 252.92L364.15 261.90L364.30 269.55L364.45 277.32L364.60 283.24L364.75 287.48L364.90 291.06L365.05 294.68L365.20 298.55L365.35 302.40L365.35 302.40L365.60 284.56L365.85 269.23L366.10 251.85L366.35 237.23L366.60 229.27L366.85 223.37L367.10 217.21L367.35 211.71L367.60 208.10L367.85 205.23L368.10 203.59L368.10 203.59L368.25 233.37L368.40 252.92L368.55 261.90L368.70 269.55L368.85 277.32L369.01 283.24L369.16 287.48L369.31 291.06L369.46 294.68L369.61 298.55L369.76 302.40L369.76 302.40L370.01 284.56L370.26 269.23L370.51 251.85L370.76 237.23L371.01 229.27L371.25 223.37L371.50 217.21L371.75 211.71L372.00 208.10L372.25 205.23L372.50 203.59L372.50 203.59L372.65 233.37L372.80 252.92L372.96 261.90L373.11 269.55L373.26 277.32L373.41 283.24L373.56 287.48L373.71 291.06L373.87 294.68L374.02 298.55L374.17 302.40L374.17 302.40L374.42 284.56L374.67 269.23L374.91 251.85L375.16 237.23L375.41 229.27L375.66 223.37L375.91 217.21L376.16 211.71L376.40 208.10L376.65 205.23L376.90 203.59L376.90 203.59L377.05 233.37L377.21 252.92L377.36 261.90L377.51 269.55L377.66 277.32L377.82 283.24L377.97 287.48L378.12 291.06L378.27 294.68L378.43 298.55L378.58 302.40L378.58 302.40L378.83 284.56L379.07 269.23L379.32 251.85L379.57 237.23L379.82 229.27L380.06 223.37L380.31 217.21L380.56 211.71L380.81 208.10L381.05 205.23L381.30 203.59L381.30 203.59L381.45 233.37L381.61 252.92L381.76 261.90L381.91 269.55L382.07 277.32L382.22 283.24L382.38 287.48L382.53 291.06L382.68 294.68L382.84 298.55L382.99 302.40L382.99 302.40L383.24 284.56L383.48 269.23L383.73 251.85L383.98 237.23L384.22 229.27L384.47 223.37L384.71 217.21L384.96 211.71L385.21 208.10L385.45 205.23L385.70 203.59L385.70 203.59L385.85 233.37L386.01 252.92L386.16 261.90L386.32 269.55L386.47 277.32L386.63 283.24L386.78 287.48L386.94 291.06L387.09 294.68L387.25 298.55L387.40 302.40" stroke="#000" stroke-width="1.05" fill="none" stroke-linejoin="round"/>
<path d="M48.60 16.50H208.10" stroke="#333" stroke-width="1.20"/><path d="M48.60 14.10l2.5 2.5l-2.5 2.5l-2.5 -2.5z" fill="#000"/><path d="M208.10 14.10l2.5 2.5l-2.5 2.5l-2.5 -2.5z" fill="#000"/>
<path d="M224.40 16.50H367.10" stroke="#333" stroke-width="1.20"/><circle cx="224.40" cy="16.60" r="2.75" fill="#000"/><circle cx="367.10" cy="16.60" r="2.75" fill="#000"/>
<path d="M383.80 16.50H406.10" stroke="#333" stroke-width="1.20"/><path d="M383.80 14.10l2.5 2.5l-2.5 2.5l-2.5 -2.5z" fill="#000"/><path d="M406.10 14.10l2.5 2.5l-2.5 2.5l-2.5 -2.5z" fill="#000"/>
<path d="M48.60 199.25H191.30" stroke="#333" stroke-width="1.40"/><path d="M48.60 196.50l2.5 2.5l-2.5 2.5l-2.5 -2.5z" fill="#000"/><path d="M191.30 196.50l2.5 2.5l-2.5 2.5l-2.5 -2.5z" fill="#000"/>
<path d="M202.20 199.25H334.20" stroke="#333" stroke-width="1.40"/><circle cx="202.20" cy="199.00" r="2.75" fill="#000"/><circle cx="334.20" cy="199.00" r="2.75" fill="#000"/>
<path d="M345.20 199.25H389.40" stroke="#333" stroke-width="1.40"/><path d="M345.20 196.50l2.5 2.5l-2.5 2.5l-2.5 -2.5z" fill="#000"/><path d="M389.40 196.50l2.5 2.5l-2.5 2.5l-2.5 -2.5z" fill="#000"/>
<text x="98.90" y="7.50" class="l" textLength="48.40" lengthAdjust="spacingAndGlyphs">0.5 mA/cm<tspan dy="-3.2" font-size="6.5">2</tspan></text>
<text x="280.00" y="7.50" class="l" textLength="41.00" lengthAdjust="spacingAndGlyphs">1 mA/cm<tspan dy="-3.2" font-size="6.5">2</tspan></text>
<text x="379.60" y="7.50" class="l" textLength="41.00" lengthAdjust="spacingAndGlyphs">2 mA/cm<tspan dy="-3.2" font-size="6.5">2</tspan></text>
<text x="104.20" y="190.00" class="l" textLength="41.40" lengthAdjust="spacingAndGlyphs">5 mA/cm<tspan dy="-3.2" font-size="6.5">2</tspan></text>
<text x="241.20" y="190.00" class="l" textLength="46.60" lengthAdjust="spacingAndGlyphs">10 mA/cm<tspan dy="-3.2" font-size="6.5">2</tspan></text>
<text x="346.40" y="190.00" class="l" textLength="46.20" lengthAdjust="spacingAndGlyphs">20 mA/cm<tspan dy="-3.2" font-size="6.5">2</tspan></text>
<text x="225.8" y="150.3" text-anchor="middle" class="b" style="font-size:10.25px">Time (s)</text>
<text x="225.8" y="332.2" text-anchor="middle" class="b" style="font-size:10.25px">Time (s)</text>
<text transform="translate(17.2 68.7) rotate(-90)" text-anchor="middle" class="b" style="font-size:10.3px">Voltage (V)</text>
<text transform="translate(17.2 250.8) rotate(-90)" text-anchor="middle" class="b" style="font-size:10.3px">Voltage (V)</text>
<text x="0" y="13.5" class="b">a)</text>
<text x="0" y="173.4" class="b">b)</text>
</svg>
</body></html>
